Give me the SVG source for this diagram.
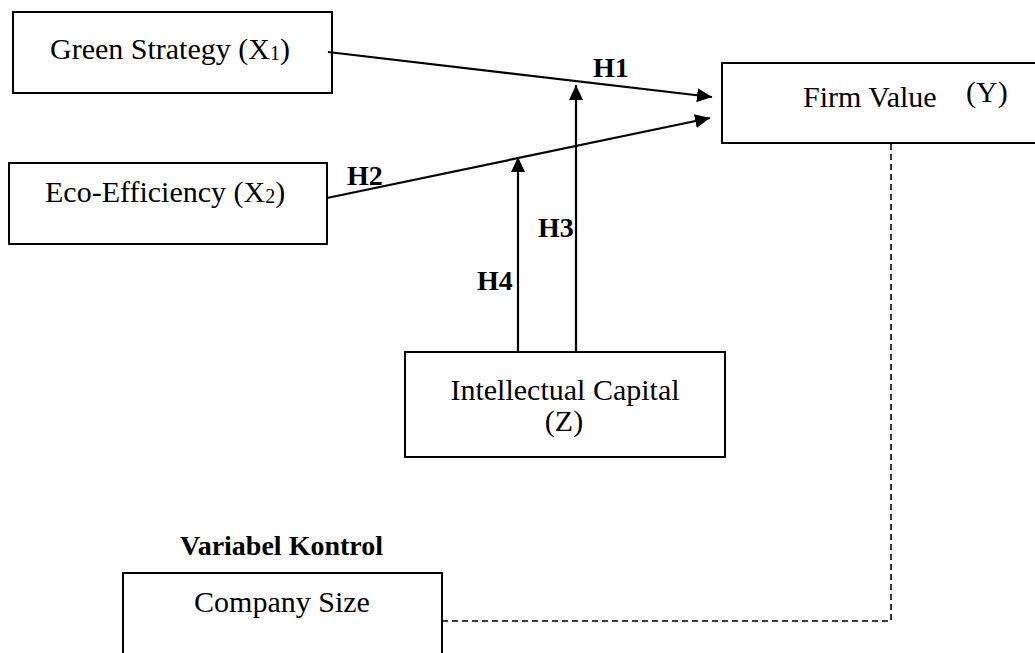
<svg xmlns="http://www.w3.org/2000/svg" width="1035" height="653" viewBox="0 0 1035 653">
<style>
.box{fill:#fff;stroke:#000;stroke-width:2}
.t{font-family:"Liberation Serif","Times New Roman",serif;font-size:30px;fill:#000}
.b{font-family:"Liberation Serif","Times New Roman",serif;font-size:28px;font-weight:bold;fill:#000}
.ln{stroke:#000;stroke-width:2.2;fill:none}
.dash{stroke:#000;stroke-width:1.6;fill:none;stroke-dasharray:6 4}
</style>
<defs>
<marker id="ah" markerUnits="userSpaceOnUse" markerWidth="16" markerHeight="14" refX="15" refY="7" orient="auto">
<path d="M0,0 L15,7 L0,14 z" fill="#000"/>
</marker>
</defs>
<rect width="1035" height="653" fill="#fff"/>
<g id="green-strategy">
<rect class="box" x="13" y="12" width="319" height="81"/>
<text class="t" x="50" y="59">Green Strategy  (X<tspan font-size="20" dy="1">1</tspan><tspan dy="-1">)</tspan></text>
</g>
<g id="eco-efficiency">
<rect class="box" x="9" y="163" width="318" height="81"/>
<text class="t" x="45" y="202">Eco-Efficiency (X<tspan font-size="20" dy="1">2</tspan><tspan dy="-1">)</tspan></text>
</g>
<g id="firm-value">
<rect class="box" x="722" y="63" width="330" height="80"/>
<text class="t" x="803" y="107">Firm Value</text>
<text class="t" x="966" y="102">(Y)</text>
</g>
<g id="intellectual-capital">
<rect class="box" x="405" y="352" width="320" height="105"/>
<text class="t" x="565" y="400" text-anchor="middle">Intellectual Capital</text>
<text class="t" x="564" y="431" text-anchor="middle">(Z)</text>
</g>
<g id="variabel-kontrol">
<text class="b" x="180" y="555" font-size="30">Variabel Kontrol</text>
</g>
<g id="company-size">
<rect class="box" x="123" y="573" width="319" height="100"/>
<text class="t" x="282" y="612" text-anchor="middle" font-size="31">Company Size</text>
</g>
<g id="connectors">
<line class="ln" x1="328" y1="52" x2="712" y2="97" marker-end="url(#ah)"/>
<line class="ln" x1="327" y1="198" x2="710" y2="118" marker-end="url(#ah)"/>
<line class="ln" x1="576" y1="352" x2="576" y2="85" marker-end="url(#ah)"/>
<line class="ln" x1="518" y1="352" x2="518" y2="157" marker-end="url(#ah)"/>
<polyline class="dash" points="442,621 891,621 891,143"/>
<text class="b" x="593" y="77">H1</text>
<text class="b" x="347" y="185">H2</text>
<text class="b" x="538" y="237">H3</text>
<text class="b" x="477" y="290">H4</text>
</g>
</svg>
